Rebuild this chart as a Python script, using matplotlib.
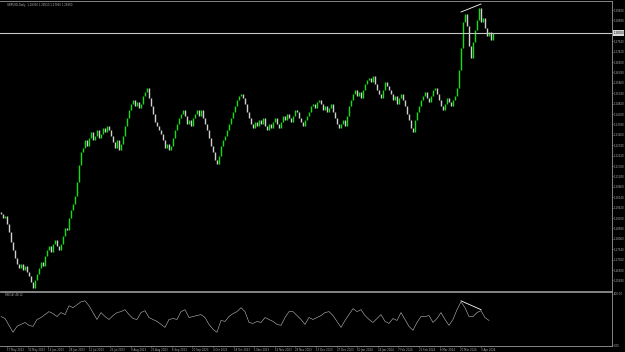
import numpy as np
import matplotlib.pyplot as plt

# daily closes (one value per bar)
closes = [
    1.1930, 1.1910, 1.1920, 1.1880, 1.1840, 1.1790, 1.1750, 1.1710, 1.1680, 1.1660,
    1.1680, 1.1650, 1.1670, 1.1640, 1.1620, 1.1590, 1.1560, 1.1600, 1.1630, 1.1660,
    1.1690, 1.1670, 1.1720, 1.1750, 1.1770, 1.1740, 1.1780, 1.1800, 1.1770, 1.1750,
    1.1780, 1.1820, 1.1860, 1.1850, 1.1910, 1.1950, 1.1980, 1.2020, 1.2090, 1.2175,
    1.2240, 1.2260, 1.2300, 1.2270, 1.2310, 1.2340, 1.2300, 1.2320, 1.2350, 1.2310,
    1.2330, 1.2360, 1.2340, 1.2370, 1.2350, 1.2320, 1.2290, 1.2260, 1.2300, 1.2250,
    1.2280, 1.2320, 1.2370, 1.2410, 1.2450, 1.2480, 1.2500, 1.2470, 1.2490, 1.2460,
    1.2480, 1.2520, 1.2540, 1.2560, 1.2510, 1.2470, 1.2430, 1.2390, 1.2370, 1.2350,
    1.2330, 1.2300, 1.2260, 1.2280, 1.2250, 1.2270, 1.2310, 1.2350, 1.2380, 1.2410,
    1.2430, 1.2450, 1.2420, 1.2380, 1.2400, 1.2370, 1.2410, 1.2430, 1.2450, 1.2420,
    1.2450, 1.2410, 1.2380, 1.2350, 1.2310, 1.2270, 1.2240, 1.2200, 1.2180, 1.2220,
    1.2270, 1.2300, 1.2320, 1.2350, 1.2380, 1.2410, 1.2440, 1.2470, 1.2500, 1.2520,
    1.2530, 1.2510, 1.2480, 1.2440, 1.2410, 1.2380, 1.2360, 1.2390, 1.2370, 1.2400,
    1.2380, 1.2410, 1.2370, 1.2350, 1.2380, 1.2360, 1.2390, 1.2410, 1.2380, 1.2360,
    1.2390, 1.2420, 1.2400, 1.2430, 1.2410, 1.2390, 1.2420, 1.2450, 1.2440, 1.2410,
    1.2390, 1.2370, 1.2400, 1.2420, 1.2440, 1.2470, 1.2480, 1.2460, 1.2490, 1.2500,
    1.2480, 1.2450, 1.2470, 1.2440, 1.2460, 1.2480, 1.2440, 1.2410, 1.2380, 1.2360,
    1.2380, 1.2400, 1.2370, 1.2420, 1.2470, 1.2500, 1.2530, 1.2550, 1.2520, 1.2540,
    1.2510, 1.2550, 1.2580, 1.2600, 1.2610, 1.2590, 1.2620, 1.2580, 1.2550, 1.2530,
    1.2510, 1.2550, 1.2590, 1.2570, 1.2550, 1.2530, 1.2500, 1.2520, 1.2480, 1.2510,
    1.2530, 1.2500, 1.2470, 1.2430, 1.2400, 1.2360, 1.2340, 1.2400, 1.2440, 1.2470,
    1.2500, 1.2520, 1.2540, 1.2510, 1.2490, 1.2520, 1.2550, 1.2560, 1.2530, 1.2500,
    1.2470, 1.2450, 1.2480, 1.2510, 1.2490, 1.2470, 1.2500, 1.2520, 1.2560, 1.2650,
    1.2760, 1.2890, 1.2930, 1.2870, 1.2770, 1.2710, 1.2790, 1.2850, 1.2900, 1.2960,
    1.2890, 1.2910, 1.2860, 1.2820, 1.2840, 1.2800, 1.2835,
]

# RSI read every second bar
rsi = [
    55.8, 51.9, 38.5, 25.0, 36.5, 40.4, 44.2, 38.5, 36.5, 50.0,
    53.8, 59.6, 65.4, 61.5, 55.8, 63.5, 59.6, 76.9, 73.1, 78.8,
    84.6, 86.5, 76.9, 63.5, 50.0, 63.5, 55.8, 50.0, 57.7, 63.5,
    65.4, 69.2, 59.6, 51.9, 50.0, 63.5, 67.3, 53.8, 50.0, 46.2,
    40.4, 34.6, 50.0, 51.9, 50.0, 65.4, 69.2, 53.8, 55.8, 57.7,
    59.6, 53.8, 40.4, 30.8, 25.0, 48.1, 46.2, 55.8, 61.5, 65.4,
    73.1, 65.4, 44.2, 42.3, 46.2, 44.2, 53.8, 50.0, 46.2, 40.4,
    38.5, 53.8, 65.4, 65.4, 57.7, 50.0, 40.4, 53.8, 50.0, 53.8,
    57.7, 63.5, 65.4, 57.7, 46.2, 34.6, 48.1, 59.6, 71.2, 65.4,
    69.2, 57.7, 50.0, 44.2, 51.9, 59.6, 46.2, 42.3, 51.9, 48.1,
    63.5, 50.0, 36.5, 28.8, 44.2, 55.8, 55.8, 57.7, 44.2, 51.9,
    63.5, 50.0, 38.5, 50.0, 69.2, 84.6, 73.1, 55.8, 55.8, 63.5,
    67.3, 53.8, 48.1,
]

date_labels = [
    "17 May 2023", "31 May 2023", "14 Jun 2023", "28 Jun 2023", "12 Jul 2023",
    "26 Jul 2023", "9 Aug 2023", "23 Aug 2023", "6 Sep 2023", "20 Sep 2023",
    "4 Oct 2023", "18 Oct 2023", "1 Nov 2023", "15 Nov 2023", "29 Nov 2023",
    "13 Dec 2023", "27 Dec 2023", "10 Jan 2024", "24 Jan 2024", "7 Feb 2024",
    "21 Feb 2024", "6 Mar 2024", "20 Mar 2024", "3 Apr 2024",
]

# trendlines (bar index, value)
price_trend = ([230, 240], [1.2940, 1.2980])
rsi_trend = ([230, 240], [86.5, 69.2])

W, H = 625, 352
grey = "#9a9a9a"
txt = "#b0b0b0"
fs = 1.9

fig = plt.figure(figsize=(W / 100, H / 100), dpi=100, facecolor="black")
ax = fig.add_axes([0, (H - 291) / H, 612 / W, 290 / H], facecolor="black")
ax2 = fig.add_axes([0, (H - 346) / H, 612 / W, 54 / H], facecolor="black")

n = len(closes)
x = np.arange(n)
closes_a = np.array(closes)
opens = np.concatenate([[closes_a[0] + 0.001], closes_a[:-1]])
up = closes_a >= opens
ax.vlines(x[up], opens[up], closes_a[up], color="#10e010", lw=1.0)
ax.vlines(x[~up], opens[~up], closes_a[~up], color="#d0d0d0", lw=1.0)

ax.axhline(closes[-1], color="#c8c8c8", lw=0.8)
ax.plot(price_trend[0], price_trend[1], color="white", lw=0.6)

ax.set_xlim(-0.5, 305.5)
ax.set_ylim(1.1545, 1.2995)
ax.yaxis.tick_right()
yt = np.delete(1.2950 - 0.0052 * np.arange(27), 2)
ax.set_yticks(yt)
ax.set_yticklabels([f"{v:.5f}" for v in yt])
ax.tick_params(axis="y", colors=grey, labelcolor=txt, labelsize=fs, length=1, width=0.5, pad=0.4)
ax.set_xticks([])
for s in ax.spines.values():
    s.set_color(grey)
    s.set_linewidth(0.6)
ax.spines["left"].set_visible(False)

ax.text(3, 1.2995 - 0.0012, "GBPUSD,Daily  1.28350 1.28510 1.27950 1.28350",
        fontsize=fs, color=txt, va="top")
ax.text(1.002, closes[-1], f"{closes[-1]:.5f}", transform=ax.get_yaxis_transform(),
        fontsize=fs, color="black", va="center", ha="left", clip_on=False,
        bbox=dict(boxstyle="square,pad=0.2", fc="#d8d8d8", ec="none"))

# RSI window
xr = np.arange(0, 2 * len(rsi), 2)
ax2.plot(xr, rsi, color="#bdbdbd", lw=0.4)
ax2.plot(rsi_trend[0], rsi_trend[1], color="white", lw=0.6)
ax2.set_xlim(-0.5, 305.5)
ax2.set_ylim(-1.9, 103.8)
ax2.yaxis.tick_right()
ax2.set_yticks([0, 100])
ax2.set_yticklabels(["0.00", "100.00"])
ax2.tick_params(axis="y", colors=grey, labelcolor=txt, labelsize=fs, length=1, width=0.5, pad=0.4)
tick_pos = 3 + 10.3 * np.arange(len(date_labels))
ax2.set_xticks(tick_pos)
ax2.set_xticklabels(date_labels, ha="left")
ax2.tick_params(axis="x", colors=grey, labelcolor=txt, labelsize=fs, length=1, width=0.5, pad=0.2)
for s in ax2.spines.values():
    s.set_color(grey)
    s.set_linewidth(0.6)
ax2.spines["left"].set_visible(False)
ax2.text(2, 101, "RSI(14) 48.12", fontsize=fs, color=txt, va="top")

fig.savefig("out.png", dpi=100, facecolor="black")
